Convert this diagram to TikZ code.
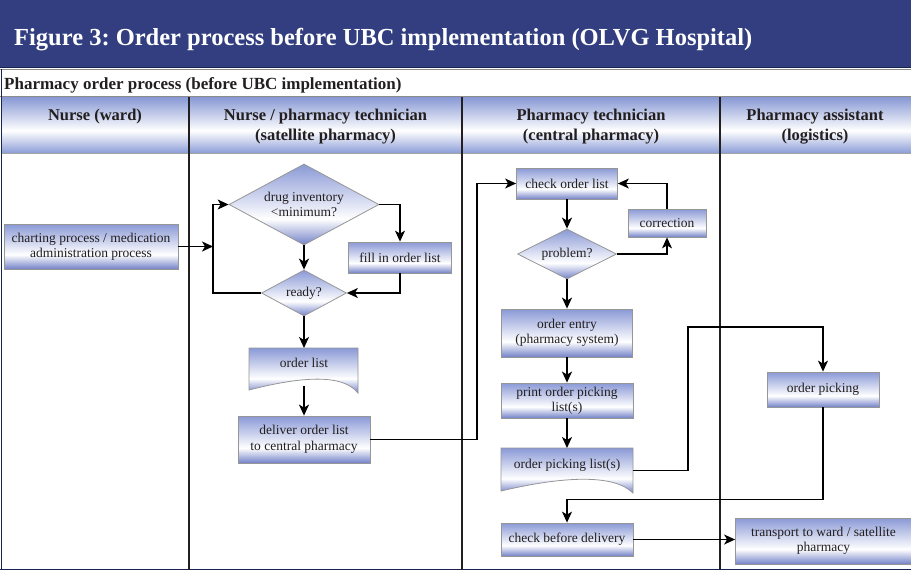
\documentclass[tikz,border=0pt]{standalone}
\usepackage{fontspec}
\setmainfont{Liberation Serif}
\usetikzlibrary{shapes.geometric,arrows.meta,calc}
\frenchspacing
\definecolor{titlebg}{RGB}{50,62,128}
\definecolor{navyline}{RGB}{25,35,80}
\definecolor{nbtop}{RGB}{138,153,214}
\definecolor{nbbot}{RGB}{115,130,200}
\definecolor{hdtop}{RGB}{135,152,212}
\definecolor{hdbot}{RGB}{140,157,215}
\definecolor{txt}{RGB}{35,31,32}
\definecolor{bordergray}{RGB}{150,150,150}
\definecolor{rulegray}{RGB}{140,140,140}
\pgfdeclareverticalshading{boxshade}{100bp}{color(0bp)=(nbbot); color(25bp)=(nbbot); color(41bp)=(white); color(75bp)=(nbtop); color(100bp)=(nbtop)}
\pgfdeclareverticalshading{headshade}{100bp}{color(0bp)=(hdbot); color(25bp)=(hdbot); color(45bp)=(white); color(75bp)=(hdtop); color(100bp)=(hdtop)}
\tikzset{
  nodefont/.style={font=\fontsize{13.5}{15.5}\selectfont},
  box/.style={rectangle, draw=bordergray, line width=0.8pt, shading=boxshade, align=center, inner sep=2pt, nodefont, text=txt},
  dia/.style={diamond, draw=bordergray, line width=0.8pt, shading=boxshade, align=center, inner sep=0pt, aspect=1.85, nodefont, text=txt},
  doc/.style={draw=bordergray, line width=0.8pt, shading=boxshade},
  arr/.style={-{Stealth[length=11pt,width=10pt,inset=3pt]}, line width=1.6pt, draw=black},
  thinarr/.style={arr, line width=1.15pt},
  headfont/.style={font=\bfseries\fontsize{16.5}{20}\selectfont, text=txt, align=center, inner sep=0pt},
  laneline/.style={draw=txt, line width=1.8pt}
}
\begin{document}
\begin{tikzpicture}[x=1pt, y=-1pt]
\useasboundingbox (0,0) rectangle (911,571);
% title bar
\fill[titlebg] (0,0) rectangle (911,67.5);
\draw[navyline, line width=1pt] (0,67.5) -- (911,67.5);
\draw[rulegray, line width=1.5pt] (0,69.5) -- (911,69.5);
\node[anchor=base west, text=white, inner sep=0pt, font=\bfseries\fontsize{24.5}{28}\selectfont] (title) at (14,45) {Figure 3: Order process before UBC implementation (OLVG Hospital)};
% subtitle
\node[anchor=base west, inner sep=0pt, text=txt, font=\bfseries\fontsize{17}{20}\selectfont] (sub) at (4,89) {Pharmacy order process (before UBC implementation)};
% header band
\path[shading=headshade] (2,97) rectangle (911,153);
\draw[rulegray, line width=1.8pt] (0,96.5) -- (911,96.5);
\draw[rulegray!80, line width=1.2pt] (2,153.3) -- (911,153.3);
% frame
\draw[navyline, line width=1.2pt] (1.5,69) -- (1.5,570);
\draw[navyline, line width=1.5pt] (0,569.6) -- (911,569.6);
% lane lines
\draw[laneline] (189,97) -- (189,570);
\draw[laneline] (462,97) -- (462,570);
\draw[laneline] (720,97) -- (720,570);
% header texts
\node[headfont, anchor=base] (h1) at (95,120.5) {Nurse (ward)};
\node[headfont] (h2) at (325.5,126.5) {Nurse / pharmacy technician\\(satellite pharmacy)};
\node[headfont] (h3) at (591,126.5) {Pharmacy technician\\(central pharmacy)};
\node[headfont] (h4) at (815,126.5) {Pharmacy assistant\\(logistics)};
% nodes
\node[box, minimum width=174pt, minimum height=45pt] (chart) at (91,246.5) {charting process / medication\\administration process};
\node[dia, minimum width=150pt, minimum height=81pt] (drug) at (304,204.5) {drug inventory\\<minimum?};
\node[box, minimum width=103pt, minimum height=31pt] (fill) at (400,257.5) {fill in order list};
\node[dia, minimum width=85pt, minimum height=46pt] (ready) at (304,293) {ready?};
\path[doc] (249,348) -- (358,348) -- (358,393) .. controls (343,374) and (303,376) .. (249,390) -- cycle;
\node[nodefont, text=txt, anchor=north, minimum width=109pt, minimum height=30pt, inner sep=0pt] (olist) at (304,348) {order list};
\coordinate (olistb) at (304,386);
\node[box, minimum width=132pt, minimum height=47pt] (deliver) at (304,439.5) {deliver order list\\to central pharmacy};
\node[box, minimum width=101pt, minimum height=31pt] (check) at (567,183.5) {check order list};
\node[box, minimum width=78pt, minimum height=28pt] (corr) at (667,223) {correction};
\node[dia, minimum width=99pt, minimum height=50pt] (prob) at (567,254) {problem?};
\node[box, minimum width=131pt, minimum height=48pt] (entry) at (567,333) {order entry\\(pharmacy system)};
\node[box, minimum width=132pt, minimum height=35pt] (print) at (567,400.5) {print order picking\\list(s)};
\path[doc] (501,448) -- (633,448) -- (633,493) .. controls (614,474) and (564,476) .. (501,491) -- cycle;
\node[nodefont, text=txt, anchor=north, minimum width=132pt, minimum height=34pt, inner sep=0pt] (oplist) at (567,448) {order picking list(s)};
\node[box, minimum width=132pt, minimum height=33pt] (cbd) at (567,539.5) {check before delivery};
\node[box, minimum width=112pt, minimum height=35pt] (picking) at (823,389.5) {order picking};
\node[box, minimum width=176pt, minimum height=46pt] (transport) at (823.5,541) {transport to ward / satellite\\pharmacy};
% helper coordinates
\coordinate (loopx) at (213,247);
\coordinate (dx) at (477,300);
\coordinate (px) at (688,327);
\coordinate (py) at (700,499.5);
% connectors
\draw[arr] (chart.east) -- (chart.east -| loopx);
\draw[thinarr] (ready.west) -| (loopx) |- (drug.west);
\draw[thinarr] (drug.east) -| (fill.north);
\draw[thinarr] (fill.south) |- (ready.east);
\draw[arr] (drug.south) -- (ready.north);
\draw[arr] (ready.south) -- (olist.north);
\draw[arr] (olistb) -- (deliver.north);
\draw[thinarr] (deliver.east) -| (dx) |- (check.west);
\draw[arr] (check.south) -- (prob.north);
\draw[thinarr] (prob.east) -| (corr.south);
\draw[thinarr] (corr.north) |- (check.east);
\draw[arr] (prob.south) -- (entry.north);
\draw[arr] (entry.south) -- (print.north);
\draw[arr] (print.south) -- (oplist.north);
\draw[thinarr] ($(oplist.east)+(0,5)$) -| (px) -| (picking.north);
\draw[thinarr] (picking.south) |- (py) -| (cbd.north);
\draw[arr] (cbd.east) -- (cbd.east -| transport.west);
\end{tikzpicture}
\end{document}
